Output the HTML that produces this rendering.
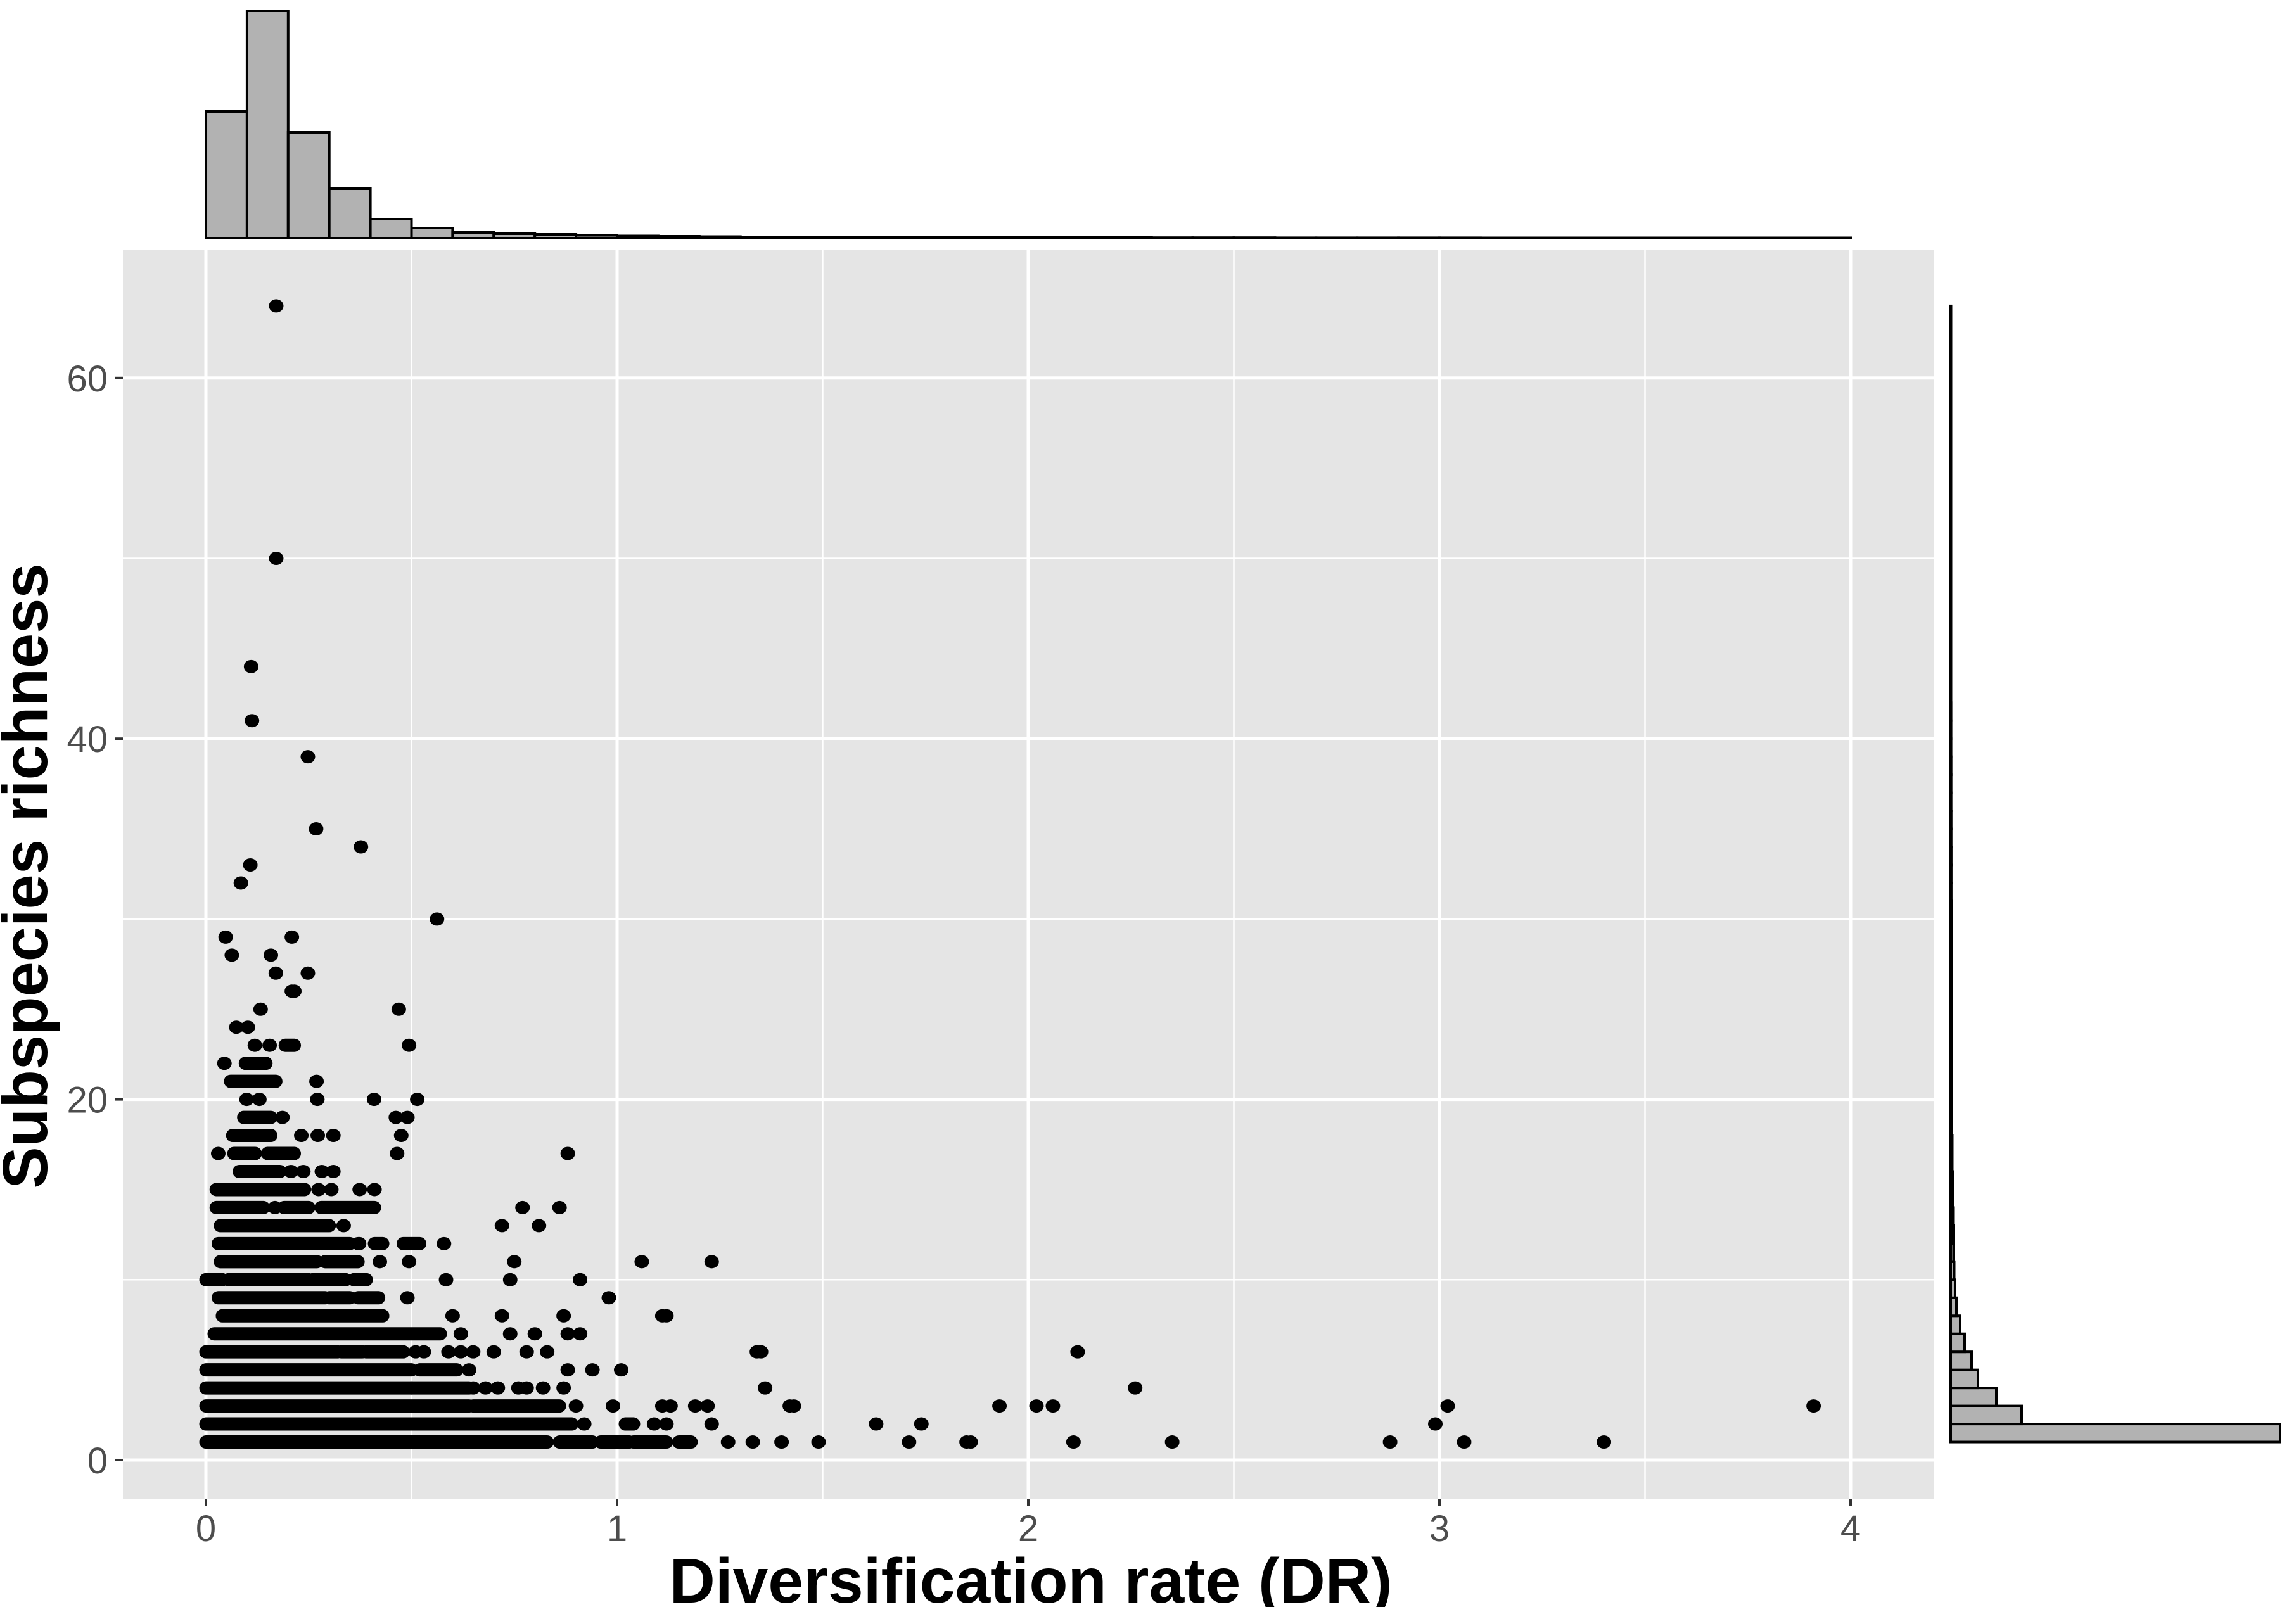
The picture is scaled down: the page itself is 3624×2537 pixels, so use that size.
<!DOCTYPE html>
<html><head><meta charset="utf-8"><style>
html,body{margin:0;padding:0;background:#fff;}
svg{display:block;font-family:"Liberation Sans",Arial,sans-serif;}
</style></head><body>
<svg id="chart" width="3624" height="2537" viewBox="0 0 3624 2537" xmlns="http://www.w3.org/2000/svg">
<rect x="0" y="0" width="3624" height="2537" fill="#fff"/>
<rect x="194" y="395" width="2859" height="1971" fill="#e5e5e5"/>
<g id="grid"></g>
<g id="marks"></g>
<g id="tophist"></g>
<g id="righthist"></g>
<g id="axes"></g>
<text x="1627" y="2530" text-anchor="middle" font-size="100" font-weight="bold" textLength="1141" lengthAdjust="spacingAndGlyphs" fill="#000">Diversification rate (DR)</text>
<text x="0" y="0" text-anchor="middle" font-size="100" font-weight="bold" textLength="987" lengthAdjust="spacingAndGlyphs" fill="#000" transform="translate(74,1383) rotate(-90)">Subspecies richness</text>
</svg>
<script>
// ---------- data ----------
const xTicks = [0,1,2,3,4];
const xTickLabels = ["0","1","2","3","4"];
const yTicks = [0,20,40,60];
const yTickLabels = ["0","20","40","60"];
// dense horizontal runs of overlapping points: richness level, DR start, DR end
const bandY =     [1,1,1,1,1,2,2,3,3,4,4,5,5,6,6,6,7,8,9,9,9,10,10,10,10,11,11,12,12,12,12,13,14,14,14,15,16,17,17,18,19,21,22,23];
const bandStart = [0.00,0.86,0.96,1.04,1.15,0.00,1.02,0.00,0.65,0.00,0.50,0.00,0.52,0.00,0.33,0.39,0.02,0.04,0.03,0.30,0.37,0.00,0.055,0.26,0.36,0.035,0.29,0.03,0.41,0.48,0.37,0.035,0.025,0.19,0.28,0.025,0.081,0.068,0.15,0.065,0.092,0.06,0.096,0.193];
const bandEnd =   [0.83,0.94,1.03,1.12,1.18,0.89,1.04,0.64,0.86,0.50,0.64,0.50,0.61,0.32,0.38,0.48,0.57,0.43,0.29,0.35,0.42,0.04,0.25,0.34,0.39,0.27,0.37,0.35,0.43,0.52,0.374,0.30,0.14,0.25,0.41,0.24,0.18,0.12,0.215,0.158,0.158,0.17,0.146,0.215];
// individual points
const ptX = [1.27,1.33,1.40,1.49,1.71,1.85,1.86,2.11,2.35,2.88,3.06,3.40,
 0.92,1.09,1.12,1.23,1.63,1.74,2.99,
 0.90,0.99,1.11,1.13,1.19,1.22,1.42,1.43,1.93,2.02,2.06,3.02,3.91,
 0.65,0.68,0.71,0.76,0.78,0.82,0.87,1.36,2.26,
 0.64,0.88,0.94,1.01,
 0.51,0.53,0.59,0.62,0.65,0.70,0.78,0.83,1.34,1.35,2.12,
 0.62,0.74,0.80,0.88,0.91,
 0.60,0.72,0.87,1.11,1.12,
 0.49,0.98,
 0.584,0.74,0.91,
 0.423,0.494,0.75,1.06,1.23,
 0.579,
 0.335,0.72,0.81,
 0.168,0.77,0.86,
 0.274,0.305,0.374,0.41,
 0.207,0.237,0.282,0.31,
 0.03,0.465,0.88,
 0.232,0.272,0.31,0.475,
 0.186,0.462,0.49,
 0.099,0.13,0.271,0.409,0.514,
 0.269,
 0.045,
 0.119,0.155,0.494,
 0.074,0.102,
 0.133,0.469,
 0.209,0.215,
 0.17,0.248,
 0.063,0.158,
 0.048,0.209,
 0.562,0.085,0.108,0.377,0.268,0.248,0.112,0.110,0.171,0.171];
const ptY = [1,1,1,1,1,1,1,1,1,1,1,1,
 2,2,2,2,2,2,2,
 3,3,3,3,3,3,3,3,3,3,3,3,3,
 4,4,4,4,4,4,4,4,4,
 5,5,5,5,
 6,6,6,6,6,6,6,6,6,6,6,
 7,7,7,7,7,
 8,8,8,8,8,
 9,9,
 10,10,10,
 11,11,11,11,11,
 12,
 13,13,13,
 14,14,14,
 15,15,15,15,
 16,16,16,16,
 17,17,17,
 18,18,18,18,
 19,19,19,
 20,20,20,20,20,
 21,
 22,
 23,23,23,
 24,24,
 25,25,
 26,26,
 27,27,
 28,28,
 29,29,
 30,32,33,34,35,39,41,44,50,64];
// top marginal histogram (DR, bins of 0.1 from 0 to 4.0), bar height in relative counts
const topBinStart = [0.0,0.1,0.2,0.3,0.4,0.5,0.6,0.7,0.8,0.9,1.0,1.1,1.2,1.3,1.4,1.5,1.6,1.7,1.8,1.9,2.0,2.1,2.2,2.3,2.4,2.5,2.6,2.7,2.8,2.9,3.0,3.1,3.2,3.3,3.4,3.5,3.6,3.7,3.8,3.9];
const topCounts   = [200,359,167,78,30,16,9,7,6,4.5,3.5,3,2.5,2,2,1.5,1.5,1.2,1.2,1,1,1,1,0.8,0.8,0.8,0.6,0.6,0.6,0.6,0.6,0.5,0.5,0.5,0.5,0.5,0.5,0.5,0.5,0.5];
// right marginal histogram (richness 1..64), bar length in relative counts
const rightLevels = [1,2,3,4,5,6,7,8,9,10,11,12,13,14,15,16,17,18,19,20,21,22,23,24,25,26,27,28,29,30,31,32,33,34,35,36,37,38,39,40,41,42,43,44,45,46,47,48,49,50,51,52,53,54,55,56,57,58,59,60,61,62,63];
const rightCounts = [520,112,72,43,33,22,15,9,7,5.5,4.5,4,3.5,3,3,2.5,2.5,2,2,2,1.8,1.6,1.5,1.4,1.3,1.2,1.1,1,1,1,0.9,0.9,0.9,0.8,0.8,0.7,0.7,0.7,0.6,0.6,0.6,0.5,0.5,0.5,0.5,0.5,0.5,0.5,0.5,0.5,0.5,0.5,0.5,0.5,0.5,0.5,0.5,0.5,0.5,0.5,0.5,0.5,0.5];

// ---------- scales ----------
const X0 = 325, XU = 649;
const Y0 = 2305, YU = 28.47;
const sx = v => X0 + v*XU;
const sy = v => Y0 - v*YU;
const PL = 194, PR = 3053, PT = 395, PB = 2366;
const NS = "http://www.w3.org/2000/svg";
function mk(tag, attrs, parent){ const e=document.createElementNS(NS,tag); for(const k in attrs) e.setAttribute(k,attrs[k]); parent.appendChild(e); return e; }

const grid = document.getElementById('grid');
[0.5,1.5,2.5,3.5].forEach(v=>{ const l=mk('line',{x1:sx(v),x2:sx(v),y1:PT,y2:PB,stroke:'#fff','stroke-width':2.5},grid);

 });
[10,30,50].forEach(v=>{ const l=mk('line',{x1:PL,x2:PR,y1:sy(v),y2:sy(v),stroke:'#fff','stroke-width':2.5},grid);

 });
xTicks.forEach(v=>{ const l=mk('line',{x1:sx(v),x2:sx(v),y1:PT,y2:PB,stroke:'#fff','stroke-width':5},grid);

 });
yTicks.forEach(v=>{ const l=mk('line',{x1:PL,x2:PR,y1:sy(v),y2:sy(v),stroke:'#fff','stroke-width':5},grid);

 });

const marks = document.getElementById('marks');
bandY.forEach((y,i)=>{ const l=mk('line',{x1:sx(bandStart[i]),x2:sx(bandEnd[i]),y1:sy(y),y2:sy(y),stroke:'#000','stroke-width':21,'stroke-linecap':'round'},marks);

 });
ptX.forEach((x,i)=>{ const c=mk('ellipse',{cx:sx(x),cy:sy(ptY[i]),rx:11.5,ry:10.5,fill:'#000'},marks);

 });

const th = document.getElementById('tophist');
const TB = 376;
topBinStart.forEach((b,i)=>{ const h=topCounts[i]; const r=mk('rect',{x:sx(b),y:TB-h,width:0.1*XU,height:h,fill:'#b2b2b2',stroke:'#000','stroke-width':4},th);

 });

const rh = document.getElementById('righthist');
const RB = 3079;
rightLevels.forEach((lv,i)=>{ const w=rightCounts[i]; const top=Math.min(lv+1,64.4); const r=mk('rect',{x:RB,y:sy(top),width:w,height:(top-lv)*YU,fill:'#b2b2b2',stroke:'#000','stroke-width':4},rh);

 });

const ax = document.getElementById('axes');
xTicks.forEach((v,i)=>{
 const t=mk('line',{x1:sx(v),x2:sx(v),y1:PB,y2:PB+12,stroke:'#333','stroke-width':4},ax);
 
 
 const tx=mk('text',{x:sx(v),y:2433,'text-anchor':'middle','font-size':58,fill:'#4d4d4d'},ax);
 tx.textContent=xTickLabels[i];
 
 
});
yTicks.forEach((v,i)=>{
 const t=mk('line',{x1:PL-12,x2:PL,y1:sy(v),y2:sy(v),stroke:'#333','stroke-width':4},ax);
 
 
 const tx=mk('text',{x:170,y:sy(v)+21,'text-anchor':'end','font-size':58,fill:'#4d4d4d'},ax);
 tx.textContent=yTickLabels[i];
 
 
});
</script>
</body></html>
